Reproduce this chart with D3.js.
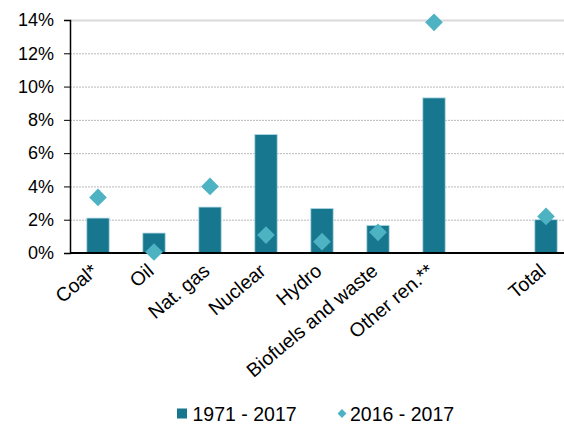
<!DOCTYPE html>
<html>
<head>
<meta charset="utf-8">
<script src="https://cdn.jsdelivr.net/npm/d3@7"></script>
<style>
  body { margin: 0; background: #fff; }
  text { font-family: "Liberation Sans", Arial, sans-serif; fill: #000; }
</style>
</head>
<body>
<div id="chart"></div>
<script>
// 類別與數值
const categories = ['Coal*', 'Oil', 'Nat. gas', 'Nuclear', 'Hydro', 'Biofuels and waste', 'Other ren.**', '', 'Total']
const growth1971 = [2.1, 1.2, 2.76, 7.12, 2.68, 1.66, 9.32, null, 2.0]
const growth2016 = [3.34, 0.06, 4.0, 1.08, 0.68, 1.24, 13.86, null, 2.2]
const yTicks = [0, 2, 4, 6, 8, 10, 12, 14]
const seriesNames = ['1971 - 2017', '2016 - 2017']

const width = 564
const height = 424
const margin = { top: 20, left: 70, bottom: 171, right: -10 }

const barColor = '#17778f'
const dotColor = '#4db3c3'

const svg = d3.select('#chart').append('svg').attr('width', width).attr('height', height)

const x = d3
  .scaleBand()
  .domain(d3.range(categories.length))
  .range([margin.left, width - margin.right])
  .paddingInner(0.6)
  .paddingOuter(0.3)

const y = d3
  .scaleLinear()
  .domain([0, 14])
  .range([height - margin.bottom, margin.top])

// 格線
svg
  .append('g')
  .selectAll('line')
  .data(yTicks.filter(d => d > 0))
  .join('line')
  .attr('x1', margin.left)
  .attr('x2', width)
  .attr('y1', d => y(d) + 0.5)
  .attr('y2', d => y(d) + 0.5)
  .attr('stroke', d => (d === 14 ? '#d9d9d9' : '#b8b8b8'))
  .attr('stroke-width', d => (d === 14 ? 2 : 1))
  .attr('stroke-dasharray', d => (d === 14 ? null : '2,1'))

// 長條
svg
  .append('g')
  .selectAll('rect')
  .data(growth1971.map((v, i) => ({ v, i })).filter(d => d.v !== null))
  .join('rect')
  .attr('x', d => x(d.i))
  .attr('width', x.bandwidth())
  .attr('y', d => y(d.v))
  .attr('height', d => y(0) - y(d.v))
  .attr('fill', barColor)
  .attr('stroke', '#b5dbe4')
  .attr('stroke-width', 0.8)

// Y 軸
const yAxis = svg
  .append('g')
  .attr('transform', `translate(${margin.left},0)`)
  .call(
    d3
      .axisLeft(y)
      .tickValues(yTicks)
      .tickFormat(d => `${d}%`)
      .tickSize(6)
      .tickPadding(10)
  )
yAxis.select('.domain').attr('stroke', '#000').attr('stroke-width', 1.5)
yAxis.selectAll('.tick line').attr('stroke', '#000')
yAxis.selectAll('text').style('font-size', '18px').attr('fill', '#000')

// X 軸
const xAxis = svg
  .append('g')
  .attr('transform', `translate(0,${y(0)})`)
  .call(d3.axisBottom(x).tickSize(0).tickFormat(i => categories[i]))
xAxis.select('.domain').attr('stroke', '#000').attr('stroke-width', 1.8).attr('d', `M${margin.left},0H${width}`)
xAxis
  .selectAll('text')
  .style('font-size', '19.5px')
  .attr('fill', '#000')
  .attr('text-anchor', 'end')
  .attr('y', 0)
  .attr('dy', 0)
  .attr('transform', 'translate(1,20) rotate(-40)')

// 菱形點
const diamond = d3.symbol().type(d3.symbolDiamond2).size(200)
svg
  .append('g')
  .selectAll('path')
  .data(growth2016.map((v, i) => ({ v, i })).filter(d => d.v !== null))
  .join('path')
  .attr('d', diamond)
  .attr('transform', d => `translate(${x(d.i) + x.bandwidth() / 2},${y(d.v)})`)
  .attr('fill', dotColor)

// 圖例
const legend = svg.append('g').attr('transform', 'translate(0,413.5)')
legend.append('rect').attr('x', 177).attr('y', -5).attr('width', 10).attr('height', 10).attr('fill', barColor)
legend
  .append('text')
  .attr('x', 192.5)
  .attr('y', 0)
  .attr('dy', '0.36em')
  .style('font-size', '19.5px')
  .text(seriesNames[0])
legend
  .append('path')
  .attr('d', d3.symbol().type(d3.symbolDiamond2).size(50))
  .attr('transform', 'translate(342,0)')
  .attr('fill', dotColor)
legend
  .append('text')
  .attr('x', 350)
  .attr('y', 0)
  .attr('dy', '0.36em')
  .style('font-size', '19.5px')
  .text(seriesNames[1])
</script>
</body>
</html>
